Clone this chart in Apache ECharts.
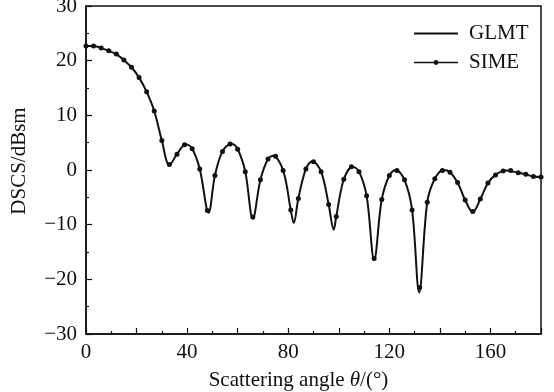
<!DOCTYPE html>
<html>
<head>
<meta charset="utf-8">
<script src="https://cdn.jsdelivr.net/npm/echarts@6/dist/echarts.min.js"></script>
<style>
  html, body { margin: 0; padding: 0; background: #fff; }
  #chart { width: 554px; height: 392px; }
</style>
</head>
<body>
<div id="chart"></div>
<script>
// SIME samples, every 3 degrees
const simeAngle = [0, 3, 6, 9, 12, 15, 18, 21, 24, 27, 30, 33, 36, 39, 42, 45, 48, 51, 54, 57,
  60, 63, 66, 69, 72, 75, 78, 81, 84, 87, 90, 93, 96, 99, 102, 105, 108, 111, 114, 117,
  120, 123, 126, 129, 132, 135, 138, 141, 144, 147, 150, 153, 156, 159, 162, 165, 168, 171, 174, 177, 180];
const simeValue = [22.7, 22.7, 22.3, 21.8, 21.2, 20.1, 18.8, 16.9, 14.3, 10.8, 5.4, 1.0, 2.9, 4.6, 3.9, 0.2, -7.4, -1.0, 3.4, 4.75,
  3.8, -0.3, -8.6, -1.8, 2.0, 2.5, -0.1, -7.3, -5.2, 0.2, 1.5, -0.3, -6.3, -8.5, -1.7, 0.6, -0.3, -4.7, -16.2, -5.4,
  -1.0, -0.1, -1.8, -7.3, -21.5, -5.9, -1.6, -0.1, -0.4, -2.3, -5.5, -7.6, -5.3, -2.4, -0.9, -0.2, -0.1, -0.5, -0.8, -1.2, -1.3];

// GLMT curve, read at the samples plus its peaks and dips
const glmtAngle = [0, 3, 6, 9, 12, 15, 18, 21, 24, 27, 30, 33, 36, 39.5, 42, 45, 48.5, 51, 54, 57.5,
  60, 63, 66, 69, 72, 74, 78, 81, 82.2, 84, 87, 89.5, 93, 96, 98, 99, 102, 105.5, 108, 111, 114, 117,
  120, 122.5, 126, 129, 131.8, 135, 138, 141.5, 144, 147, 150, 153, 156, 159, 162, 166, 171, 174, 177, 180];
const glmtValue = [22.7, 22.7, 22.3, 21.8, 21.2, 20.1, 18.8, 16.9, 14.3, 10.8, 5.4, 0.9, 2.9, 4.7, 3.9, 0.2, -7.8, -1.0, 3.4, 4.8,
  3.8, -0.3, -8.9, -1.8, 2.0, 2.6, -0.1, -7.3, -9.7, -5.2, 0.2, 1.6, -0.3, -6.3, -10.9, -8.5, -1.7, 0.6, -0.3, -4.7, -16.4, -5.4,
  -1.0, 0.0, -1.8, -7.3, -22.4, -5.9, -1.6, 0.0, -0.4, -2.3, -5.5, -7.7, -5.3, -2.4, -0.9, -0.1, -0.5, -0.8, -1.2, -1.3];

const ink = '#111';
const serif = "'Liberation Serif', 'Times New Roman', serif";
const fs = 21;
const minus = (v) => String(v).replace('-', '\u2212');

const chart = echarts.init(document.getElementById('chart'), null, { renderer: 'canvas' });

chart.setOption({
  animation: false,
  textStyle: { fontFamily: serif, color: ink },
  grid: {
    left: 86, right: 13, top: 6, bottom: 58,
    outerBoundsMode: 'none',
    show: true, borderColor: ink, borderWidth: 1.5, backgroundColor: 'transparent'
  },
  legend: {
    left: 413, top: 23, orient: 'vertical', padding: 0,
    itemWidth: 44, itemHeight: 6, itemGap: 8,
    textStyle: { fontFamily: serif, fontSize: fs, color: ink, lineHeight: 20, padding: [0, 0, 0, 6] },
    data: [
      { name: 'GLMT', itemStyle: { opacity: 0 }, lineStyle: { color: ink, width: 2, opacity: 1 } },
      { name: 'SIME', lineStyle: { color: ink, width: 1.5, opacity: 1 } }
    ]
  },
  xAxis: {
    type: 'value', min: 0, max: 180, interval: 20,
    name: 'Scattering angle {i|θ}/(°)',
    nameLocation: 'middle', nameGap: 36,
    nameTextStyle: {
      fontFamily: serif, fontSize: fs, color: ink, padding: [0, 30, 0, 0],
      rich: { i: { fontFamily: serif, fontSize: fs, fontStyle: 'italic', color: ink } }
    },
    axisLine: { onZero: false, lineStyle: { color: ink, width: 1.5 } },
    axisTick: { inside: true, length: 6, lineStyle: { color: ink, width: 1.2 } },
    minorTick: { show: true, splitNumber: 2, length: 3, lineStyle: { color: ink, width: 1.2 } },
    axisLabel: {
      fontFamily: serif, fontSize: fs, color: ink, margin: 8,
      formatter: (v) => (v % 40 === 0 ? minus(v) : '')
    },
    splitLine: { show: false }
  },
  yAxis: {
    type: 'value', min: -30, max: 30, interval: 10,
    name: 'DSCS/dBsm',
    nameLocation: 'middle', nameGap: 56,
    nameTextStyle: { fontFamily: serif, fontSize: fs, color: ink, padding: [0, 0, 0, 18] },
    axisLine: { onZero: false, lineStyle: { color: ink, width: 1.5 } },
    axisTick: { inside: true, length: 6, lineStyle: { color: ink, width: 1.2 } },
    minorTick: { show: true, splitNumber: 2, length: 3, lineStyle: { color: ink, width: 1.2 } },
    axisLabel: { fontFamily: serif, fontSize: fs, color: ink, margin: 9, formatter: minus },
    splitLine: { show: false }
  },
  series: [
    {
      name: 'GLMT', type: 'line', smooth: 0.35,
      symbol: 'none',
      lineStyle: { color: ink, width: 2 },
      itemStyle: { color: ink },
      data: glmtAngle.map((a, i) => [a, glmtValue[i]])
    },
    {
      name: 'SIME', type: 'line', smooth: 0.35,
      symbol: 'circle', symbolSize: 5,
      lineStyle: { color: ink, width: 1, opacity: 0 },
      itemStyle: { color: ink },
      data: simeAngle.map((a, i) => [a, simeValue[i]])
    }
  ]
});
</script>
</body>
</html>
